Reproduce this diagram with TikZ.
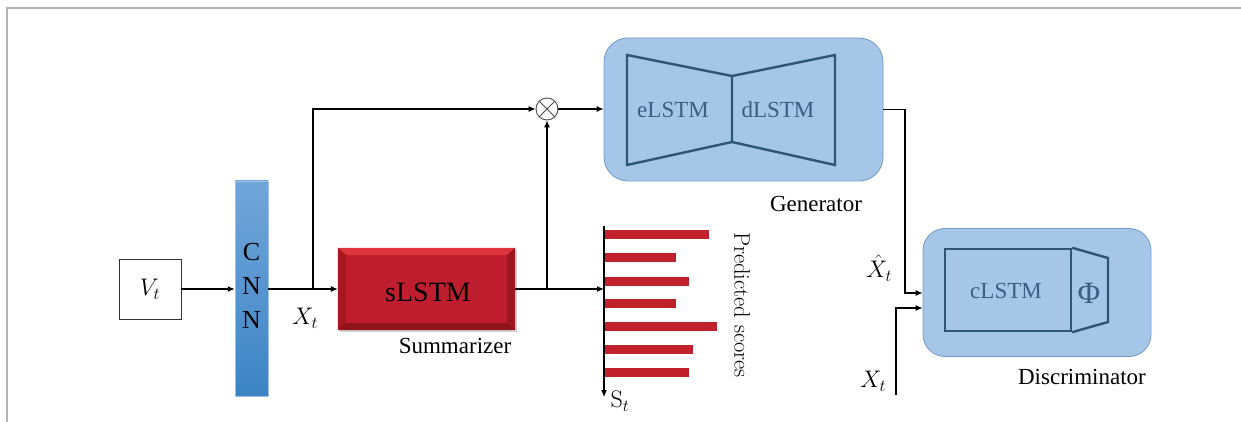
\RequirePackage{fix-cm}
\documentclass[tikz,border=0pt]{standalone}
\usepackage{fontspec}
\newfontfamily\tnr{Liberation Serif}
\usetikzlibrary{arrows.meta,calc,shadows}

\definecolor{framegray}{HTML}{B4B4B4}
\definecolor{cnntop}{HTML}{72A6DA}
\definecolor{cnnbot}{HTML}{3C84C5}
\definecolor{redmain}{HTML}{BE1E2D}
\definecolor{redtop}{HTML}{DE343B}
\definecolor{redleft}{HTML}{A5171F}
\definecolor{redright}{HTML}{9C1820}
\definecolor{redbot}{HTML}{8E151B}
\definecolor{barred}{HTML}{C0212B}
\definecolor{panelfill}{HTML}{A6C6E8}
\definecolor{paneledge}{HTML}{7099C8}
\definecolor{inkblue}{HTML}{2F5575}
\definecolor{textblue}{HTML}{3C5E80}

\begin{document}
\begin{tikzpicture}[x=1pt,y=-1pt,
  arr/.style={line width=1.1pt,-{Latex[length=7pt,width=6pt]}},
  lbl/.style={font=\tnr\fontsize{23}{26}\selectfont,inner sep=0pt},
  mathlbl/.style={font=\fontsize{24}{28}\selectfont,inner sep=0pt},
  panel/.style={draw=paneledge,fill=panelfill,line width=0.8pt,rounded corners=24pt},
  inner/.style={draw=inkblue,line width=2.4pt,line join=miter},
  innertext/.style={font=\tnr\fontsize{23}{26}\selectfont,text=textblue,inner sep=0pt},
  bar/.style={fill=barred}]
\useasboundingbox (0,0) rectangle (1241,422);

% page frame
\draw[framegray,line width=1.6pt] (1241,8) -- (7,8) -- (7,422);

% input frame and CNN
\node[draw=black!80,line width=0.9pt,minimum width=62pt,minimum height=60pt,inner sep=0pt,mathlbl] (vt) at (150,289) {$V_t$};
\node[top color=cnntop,bottom color=cnnbot,draw=cnntop!70!white,line width=0.5pt,
      minimum width=33pt,minimum height=215pt,inner sep=0pt] (cnn) at (251.5,288.5) {};
\node[font=\tnr\fontsize{26}{34}\selectfont,align=center,inner sep=0pt] (cnntxt) at (251.5,286) {C\\N\\N};

% summarizer block with bevelled edges
\node[fill=redmain,minimum width=177pt,minimum height=82pt,inner sep=0pt,
      drop shadow={shadow xshift=2pt,shadow yshift=-2pt,opacity=0.35}] (sl) at (426.5,289) {};
\fill[redtop] (sl.north west) -- (sl.north east) -- ($(sl.north east)+(-8,7)$) -- ($(sl.north west)+(8,7)$) -- cycle;
\fill[redleft] (sl.north west) -- ($(sl.north west)+(8,7)$) -- ($(sl.south west)+(8,-7)$) -- (sl.south west) -- cycle;
\fill[redright] (sl.north east) -- ($(sl.north east)+(-8,7)$) -- ($(sl.south east)+(-8,-7)$) -- (sl.south east) -- cycle;
\fill[redbot] (sl.south west) -- ($(sl.south west)+(8,-7)$) -- ($(sl.south east)+(-8,-7)$) -- (sl.south east) -- cycle;
\node[font=\tnr\fontsize{28}{32}\selectfont,inner sep=0pt] (sltxt) at (428,292) {sLSTM};
\node[lbl] (summ) at (455,346) {Summarizer};

% multiplication node
\node[draw=black!70,line width=0.9pt,circle,minimum size=22pt,inner sep=0pt,
      path picture={\draw[black!70,line width=0.9pt]
        (path picture bounding box.south west) -- (path picture bounding box.north east)
        (path picture bounding box.north west) -- (path picture bounding box.south east);}] (mul) at (547,109) {};

% generator
\node[panel,minimum width=279pt,minimum height=143pt] (gen) at (743.5,109.5) {};
\draw[inner] (627,55) -- (732,76) -- (732,142) -- (627,165) -- cycle;
\draw[inner] (732,76) -- (835,55) -- (835,165) -- (732,142);
\node[innertext] (etxt) at (673,110) {eLSTM};
\node[innertext] (dtxt) at (778,110) {dLSTM};
\node[lbl] (genlbl) at (816,204) {Generator};

% discriminator
\node[panel,rounded corners=22pt,minimum width=228pt,minimum height=128pt] (dis) at (1037,292.5) {};
\node[draw=inkblue,line width=2.4pt,minimum width=126pt,minimum height=82pt,inner sep=0pt] (cl) at (1008,290) {};
\draw[inner] (cl.north east) -- (1108,258) -- (1108,322) -- (cl.south east);
\node[innertext] (cltxt) at (1006,291) {cLSTM};
\node[font=\tnr\fontsize{31}{34}\selectfont,text=textblue,inner sep=0pt] (phi) at (1089,293) {Φ};
\node[lbl] (dislbl) at (1082,377) {Discriminator};

% predicted scores
\coordinate (ax0) at (604,226);
\coordinate (ax1) at (604,397);
\foreach \ya/\xb in {230/709,253/676,277/689,299/676,322/717,345/693,368/689}
  \fill[bar] (604,\ya) rectangle (\xb,\ya+9);
\draw[arr] (ax0) -- (ax1);
\node[mathlbl] (st) at (620,401) {$\mathrm{S}_t$};
\node[font=\fontsize{22.5}{26}\selectfont,rotate=-90,inner sep=0pt] (pred) at (742,305) {Predicted scores};

% labels
\node[mathlbl] (xt) at (305,318) {$X_t$};
\node[mathlbl] (xhat) at (879,268) {$\hat{X}_t$};
\node[mathlbl] (xt2) at (873,381) {$X_t$};

% connectors
\coordinate (br1) at (313,289);
\coordinate (br2) at (547,289);
\coordinate (bend1) at (905,293);
\coordinate (xin) at (896,395);
\coordinate (bend2) at (896,308);
\draw[arr] (vt.east) -- (vt.east -| cnn.west);
\draw[arr] (cnn.east |- sl.west) -- (sl.west);
\draw[arr] (br1) |- (mul.west);
\draw[arr] (sl.east) -- (sl.east -| ax0);
\draw[arr] (br2) -- (mul.south);
\draw[arr] (mul.east) -- (mul.east -| gen.west);
\draw[arr] (gen.east) -| (bend1) -- (bend1 -| dis.west);
\draw[arr] (xin) -- (bend2) -- (bend2 -| dis.west);
\end{tikzpicture}
\end{document}
